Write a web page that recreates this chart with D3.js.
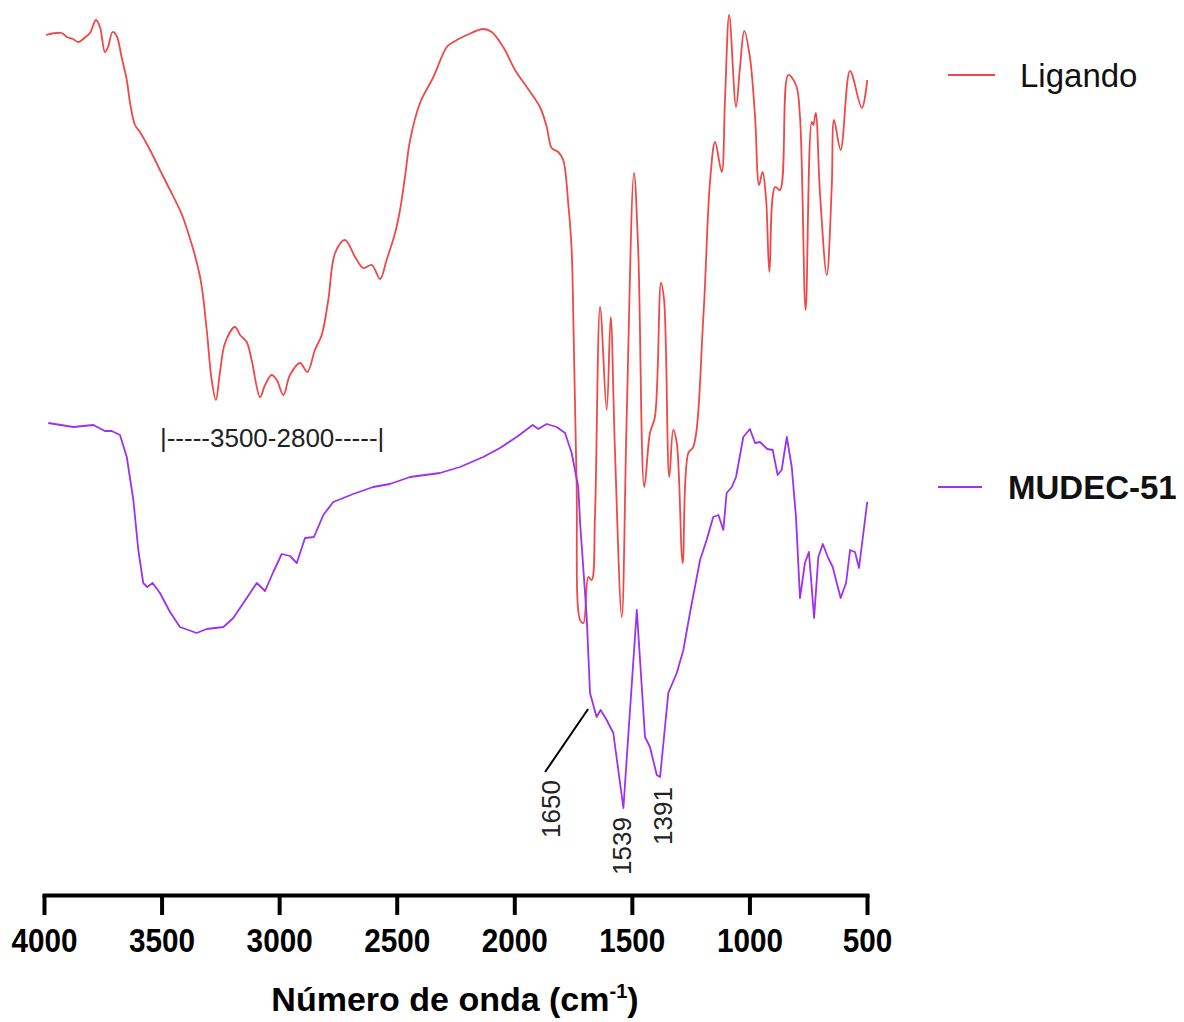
<!DOCTYPE html>
<meta charset="utf-8">
<head>
  <title>FTIR</title>
</head>

<style>
body {
  margin: 0;
  background: #fff;
  font-family: "Liberation Sans", Arial, Helvetica, sans-serif;
}
</style>

<body>
  <div id="content">
    <svg width="1184" height="1022"></svg>
  </div>

  <script src="https://cdnjs.cloudflare.com/ajax/libs/d3/7.8.5/d3.min.js"></script>

  <script>
// spectra: [wavenumber (cm-1), transmittance (a.u.)]
var ligando = [
  [3992,865],[3925,867],[3903,863],[3877,861],[3855,858],[3818,864],[3804,867],[3779,880],
  [3762,873],[3741,848],[3728,853],[3708,868],[3691,864],[3670,843],[3648,820],[3634,797],
  [3613,775],[3592,768],[3549,750],[3507,730],[3464,710],[3422,690],[3405,680],[3337,624],
  [3308,570],[3287,520],[3269,500],[3252,527],[3230,557],[3188,573],[3166,565],[3138,558],
  [3117,540],[3081,503],[3060,515],[3032,525],[3010,520],[2982,505],[2954,525],[2911,537],
  [2880,528],[2848,550],[2819,565],[2791,600],[2762,647],[2720,660],[2677,643],[2642,632],
  [2606,635],[2571,621],[2543,640],[2507,667],[2486,690],[2465,723],[2443,760],[2401,797],
  [2344,823],[2287,853],[2259,858],[2202,865],[2132,871],[2096,868],[2047,853],[1997,830],
  [1947,813],[1891,793],[1862,773],[1841,752],[1813,748],[1792,740],[1770,695],[1756,650],
  [1749,583],[1735,417],[1720,280],[1706,277],[1685,323],[1671,320],[1657,383],[1635,593],
  [1607,490],[1590,583],[1572,450],[1543,283],[1522,483],[1491,727],[1473,650],[1447,413],
  [1423,467],[1402,483],[1376,617],[1363,600],[1341,423],[1324,470],[1309,457],[1284,337],
  [1260,447],[1239,453],[1196,583],[1168,717],[1146,758],[1118,728],[1104,800],[1086,885],
  [1057,793],[1040,833],[1022,869],[998,843],[976,783],[959,715],[944,728],[929,700],
  [915,628],[891,713],[870,710],[835,825],[802,815],[785,783],[761,590],[735,778],
  [728,775],[718,787],[700,707],[671,625],[650,713],[640,780],[612,750],[572,829],
  [522,792],[499,820]
];

var mudec = [
  [3982,477],[3875,473],[3790,475],[3741,469],[3712,469],[3677,465],[3648,443],[3620,400],
  [3599,350],[3578,317],[3561,313],[3538,317],[3507,307],[3464,288],[3422,273],[3351,267],
  [3308,271],[3237,273],[3195,282],[3152,297],[3095,317],[3060,309],[3025,328],[2989,346],
  [2954,344],[2925,337],[2890,362],[2852,363],[2812,385],[2770,398],[2685,406],[2600,413],
  [2529,416],[2443,423],[2316,427],[2231,433],[2132,443],[2061,452],[1990,463],[1922,475],
  [1898,471],[1862,476],[1820,473],[1784,467],[1756,447],[1728,413],[1720,377],[1692,283],
  [1678,207],[1650,183],[1633,190],[1607,180],[1579,167],[1536,92],[1479,290],[1444,163],
  [1423,153],[1394,125],[1380,123],[1345,207],[1309,227],[1281,250],[1253,287],[1210,340],
  [1182,360],[1154,383],[1132,385],[1111,370],[1097,407],[1075,413],[1057,423],[1026,463],
  [998,471],[976,457],[955,458],[924,451],[901,450],[880,425],[863,430],[841,463],
  [820,433],[802,383],[785,302],[764,337],[747,348],[725,282],[707,343],[688,356],
  [665,342],[646,333],[612,302],[589,317],[572,350],[551,348],[534,332],[499,398]
];

var xTicks = [4000, 3500, 3000, 2500, 2000, 1500, 1000, 500];
var seriesNames = ['Ligando', 'MUDEC-51'];

// peak labels: text, wavenumber, value at label centre
var peakLabels = [
  ['1650', 1844, 91],
  ['1539', 1542, 54],
  ['1391', 1368, 84]
];
// leader line for 1650
var leader = [[1869, 128], [1686, 191]];
var rangeNote = ['|-----3500-2800-----|', 3507, 453];

var svg = d3.select('svg');

var x = d3.scaleLinear().domain([4000, 500]).range([44, 867]);
var y = d3.scaleLinear().domain([0, 900]).range([900, 0]);

var colors = { 'Ligando': '#f04848', 'MUDEC-51': '#9d32ee' };

var lineSmooth = d3.line()
  .x(function(d) { return x(d[0]); })
  .y(function(d) { return y(d[1]); })
  .curve(d3.curveCatmullRom.alpha(0.5));

var lineRough = d3.line()
  .x(function(d) { return x(d[0]); })
  .y(function(d) { return y(d[1]); });

svg.append('path')
  .datum(ligando)
  .attr('d', lineSmooth)
  .attr('fill', 'none')
  .attr('stroke', colors['Ligando'])
  .attr('stroke-width', 1.8);

svg.append('path')
  .datum(mudec)
  .attr('d', lineRough)
  .attr('fill', 'none')
  .attr('stroke', colors['MUDEC-51'])
  .attr('stroke-width', 1.8)
  .attr('stroke-linejoin', 'round');

// x axis
var axis = svg.append('g')
  .attr('transform', 'translate(0,895)')
  .call(d3.axisBottom(x)
    .tickValues(xTicks)
    .tickFormat(d3.format('d'))
    .tickSize(20)
    .tickSizeOuter(0)
    .tickPadding(14));

axis.select('.domain').attr('stroke', '#000').attr('stroke-width', 4).attr('stroke-linecap', 'square');
axis.selectAll('.tick line').attr('stroke', '#000').attr('stroke-width', 4);
axis.selectAll('.tick text')
  .attr('fill', '#000')
  .attr('transform', 'scale(0.9,1)')
  .style('font-family', '"Liberation Sans", Arial, sans-serif')
  .style('font-size', '33px')
  .style('font-weight', 'bold');

var title = svg.append('text')
  .attr('x', 455)
  .attr('y', 1011)
  .attr('text-anchor', 'middle')
  .style('font-size', '34px')
  .style('font-weight', 'bold');
title.append('tspan').text('Número de onda (cm');
title.append('tspan').attr('dy', -13).style('font-size', '20px').text('-1');
title.append('tspan').attr('dy', 13).text(')');

// range annotation
svg.append('text')
  .attr('x', x(rangeNote[1]))
  .attr('y', y(rangeNote[2]))
  .style('font-size', '26px')
  .attr('fill', '#222')
  .text(rangeNote[0]);

// peak labels
svg.append('line')
  .attr('x1', x(leader[0][0])).attr('y1', y(leader[0][1]))
  .attr('x2', x(leader[1][0])).attr('y2', y(leader[1][1]))
  .attr('stroke', '#000')
  .attr('stroke-width', 2);

svg.selectAll('.peak')
  .data(peakLabels)
  .enter().append('text')
  .attr('class', 'peak')
  .attr('transform', function(d) { return 'translate(' + x(d[1]) + ',' + y(d[2]) + ') rotate(-90)'; })
  .attr('text-anchor', 'middle')
  .attr('dominant-baseline', 'central')
  .attr('fill', '#222')
  .style('font-size', '26px')
  .text(function(d) { return d[0]; });

// legend
var legendPos = [
  { name: 'Ligando', x1: 948, x2: 995, ly: 75, tx: 1020, ty: 87, weight: 'normal' },
  { name: 'MUDEC-51', x1: 938, x2: 982, ly: 487, tx: 1008, ty: 499, weight: 'bold' }
];

legendPos.forEach(function(d) {
  svg.append('line')
    .attr('x1', d.x1).attr('x2', d.x2)
    .attr('y1', d.ly).attr('y2', d.ly)
    .attr('stroke', colors[d.name])
    .attr('stroke-width', 2);
  svg.append('text')
    .attr('x', d.tx).attr('y', d.ty)
    .style('font-size', '33px')
    .style('font-weight', d.weight)
    .attr('fill', '#111')
    .text(d.name);
});
  </script>
</body>
</html>
